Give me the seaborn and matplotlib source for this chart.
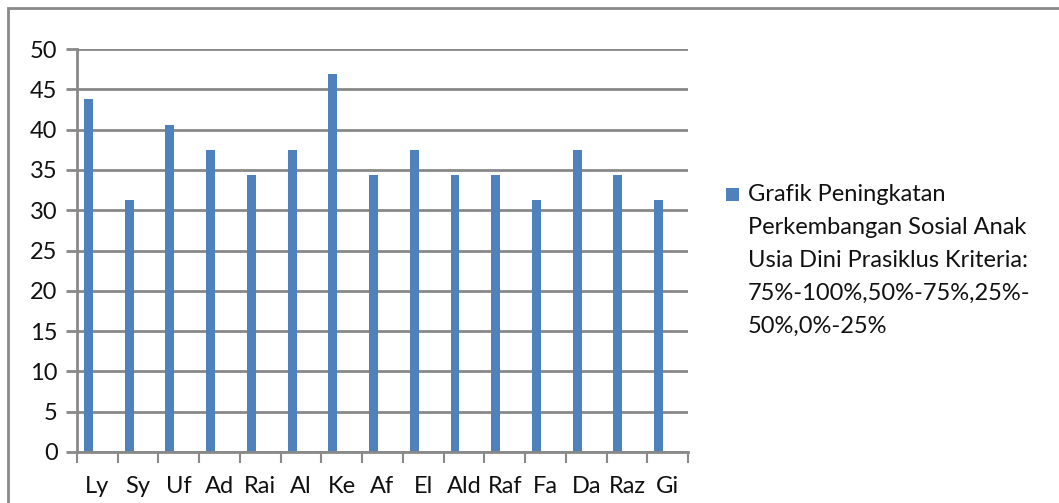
import matplotlib
matplotlib.use("Agg")
import matplotlib.pyplot as plt
from matplotlib.patches import Rectangle
from matplotlib.ticker import FixedLocator
import seaborn as sns
import pandas as pd

names = ["Ly", "Sy", "Uf", "Ad", "Rai", "Al", "Ke", "Af", "El", "Ald",
         "Raf", "Fa", "Da", "Raz", "Gi"]
scores = [43.75, 31.25, 40.6, 37.5, 34.4, 37.5, 46.9, 34.4, 37.5, 34.4,
          34.4, 31.25, 37.5, 34.4, 31.25]
series_label = ("Grafik Peningkatan\nPerkembangan Sosial Anak\n"
                "Usia Dini Prasiklus Kriteria:\n75%-100%,50%-75%,25%-\n50%,0%-25%")
y_ticks = list(range(0, 51, 5))

sns.set_theme(style="white")
plt.rcParams["font.family"] = ["Lato", "DejaVu Sans"]

bar_color = "#4F81BD"
grid_color = "#898989"
text_color = "#111111"
fs = 17
bar_width = 0.22
bar_shift = -0.22   # bars sit in the left part of each category slot

df = pd.DataFrame({"name": names, "score": scores})

W, H = 1059, 503
fig = plt.figure(figsize=(W / 100, H / 100), dpi=100)
ax = fig.add_axes([77 / W, 1 - 452 / H, (688 - 77) / W, (452 - 49) / H])

sns.barplot(data=df, x="name", y="score", color=bar_color, width=bar_width,
            saturation=1, ax=ax, edgecolor="none")
for p in ax.patches:
    p.set_x(p.get_x() + bar_shift)

ax.set_xlim(-0.5, len(names) - 0.5)
ax.set_ylim(0, 50)
ax.set_yticks(y_ticks)
ax.set_yticklabels([str(v) for v in y_ticks])
ax.yaxis.grid(True, color=grid_color, linewidth=2)
ax.set_axisbelow(True)
ax.set_xlabel("")
ax.set_ylabel("")

for side in ["top", "right"]:
    ax.spines[side].set_visible(False)
for side in ["left", "bottom"]:
    ax.spines[side].set_color(grid_color)
    ax.spines[side].set_linewidth(2)

# category boundary ticks below the axis
ax.xaxis.set_minor_locator(FixedLocator([i - 0.5 for i in range(len(names) + 1)]))
ax.tick_params(axis="x", which="minor", length=8, width=1.5, color=grid_color,
               direction="out", bottom=True)
ax.tick_params(axis="x", which="major", length=0, pad=17, labelsize=fs,
               labelcolor=text_color)
ax.tick_params(axis="y", which="major", length=8, width=2, color=grid_color,
               direction="out", left=True, pad=6, labelsize=fs,
               labelcolor=text_color)

# legend: swatch beside the first line of the series name
fig.patches.append(Rectangle((726 / W, 1 - 201 / H), 13 / W, 13 / H,
                             transform=fig.transFigure, facecolor=bar_color,
                             edgecolor="none"))
fig.text(748 / W, 1 - 184 / H, series_label, ha="left", va="top",
         fontsize=fs, color=text_color, linespacing=1.70)

# outer chart frame
fig.patches.append(Rectangle((8 / W, -0.1), 1.2, 1 - 8 / H + 0.1,
                             transform=fig.transFigure, fill=False,
                             edgecolor=grid_color, linewidth=2))

fig.savefig("out.png", dpi=100, facecolor="white")
